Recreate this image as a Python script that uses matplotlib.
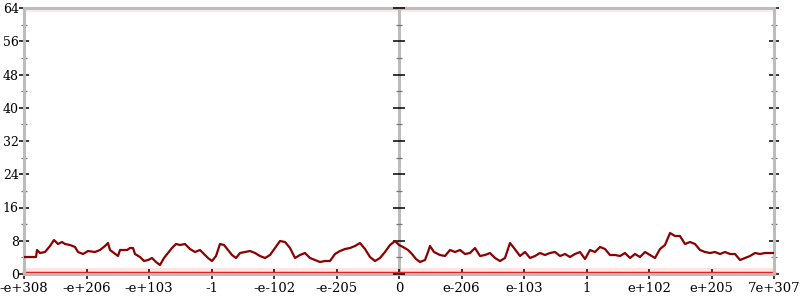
import matplotlib
matplotlib.use("Agg")
import matplotlib.pyplot as plt
from matplotlib.ticker import MultipleLocator

# tick labels of the (bit-pattern) x axis
x_labels = ["-e+308", "-e+206", "-e+103", "-1", "-e-102", "-e-205", "0",
            "e-206", "e-103", "1", "e+102", "e+205", "7e+307"]

# line series: x in tick units (0..12), y values
px = [24, 36, 37, 40, 45, 50, 54, 58, 62, 65, 70, 75, 78, 83, 88, 95, 100, 105, 108,
      110, 114, 118, 120, 127, 130, 133, 135, 140, 144, 148, 152, 156, 160, 164, 168,
      172, 176, 180, 185, 190, 195, 200, 205, 208, 212, 216, 220, 224, 228, 232, 236,
      240, 245, 250, 255, 260, 265, 270, 275, 280, 285, 290, 295, 300, 305, 310, 315,
      320, 325, 330, 335, 340, 345, 350, 355, 360, 365, 370, 375, 380, 385, 390, 395,
      399, 403, 408, 412, 416, 420, 425, 428, 430, 434, 440, 445, 450, 455, 460, 465,
      470, 475, 480, 485, 490, 495, 500, 505, 510, 514, 520, 525, 530, 535, 540, 545,
      550, 555, 560, 565, 570, 575, 580, 585, 590, 595, 600, 605, 610, 615, 620, 625,
      630, 635, 640, 645, 650, 655, 660, 665, 670, 675, 680, 685, 690, 695, 700, 705,
      710, 715, 720, 725, 730, 735, 740, 745, 750, 755, 760, 765, 774]
py = [257, 257, 250, 253, 252, 246, 240, 244, 242, 244, 245, 247, 252, 254, 251, 252,
      250, 246, 243, 250, 253, 256, 250, 250, 248, 248, 254, 257, 261, 260, 258, 262,
      265, 258, 253, 248, 244, 245, 244, 249, 252, 250, 255, 258, 261, 256, 244, 245,
      250, 255, 258, 253, 252, 251, 253, 256, 258, 255, 248, 241, 242, 248, 258, 255,
      253, 258, 260, 262, 261, 261, 254, 251, 249, 248, 246, 243, 249, 257, 261, 258,
      252, 245, 241, 245, 247, 250, 254, 259, 262, 260, 252, 246, 252, 255, 256, 250,
      252, 250, 254, 253, 248, 256, 255, 253, 258, 261, 258, 243, 248, 256, 252, 258,
      256, 253, 255, 253, 252, 256, 254, 257, 254, 252, 259, 250, 252, 247, 249, 255,
      255, 256, 253, 258, 254, 257, 252, 255, 258, 249, 245, 233, 236, 236, 244, 242,
      244, 250, 252, 253, 252, 254, 252, 254, 254, 260, 258, 256, 253, 254, 253, 253]
line_x = [(p - 24) / 62.5 for p in px]
line_y = [(274 - p) * 8 / 33.25 for p in py]

fig = plt.figure(figsize=(8, 3), dpi=100)
ax = fig.add_axes([24 / 800, 26 / 300, 750 / 800, 266 / 300])
ax.set_xlim(0, 12)
ax.set_ylim(0, 64)

gray = "#bcbcbc"
for s in ["left", "right", "top", "bottom"]:
    ax.spines[s].set_color(gray)
    ax.spines[s].set_linewidth(2.2)

# faint red point bands at 0 and 64
ax.axhspan(0, 1.5, color="#ff9a9a", alpha=0.28, lw=0, zorder=1)
ax.axhline(0.2, color="#e42020", lw=2.5, zorder=2, clip_on=False)
ax.axhspan(63.0, 63.8, color="#ffb8b8", alpha=0.3, lw=0, zorder=1)

# central axis
ax.axvline(6, color=gray, lw=2.2, zorder=1)
for v in range(0, 65, 4):
    major = v % 8 == 0
    ax.plot([6], [v], marker="_", ms=8 if major else 4.5, mew=1.1 if major else 0.9,
            color="black" if major else "#777777", zorder=3, clip_on=False)

ax.plot(line_x, line_y, color="#8b0000", lw=1.6, zorder=4)

ax.set_xticks(range(13))
ax.set_xticklabels(x_labels)
ax.yaxis.set_major_locator(MultipleLocator(8))
ax.yaxis.set_minor_locator(MultipleLocator(4))
ax.tick_params(axis="y", which="major", direction="inout", length=7.5, width=1.1,
               right=True, labelsize=9, pad=0, color="black")
ax.tick_params(axis="y", which="minor", direction="inout", length=4.5, width=0.9,
               right=True, color="#777777")
ax.tick_params(axis="x", which="major", direction="inout", length=7, width=1.1,
               labelsize=9.5, pad=2, color="black")
for lab in ax.get_xticklabels() + ax.get_yticklabels():
    lab.set_family("DejaVu Serif")

fig.savefig("out.png", dpi=100)
